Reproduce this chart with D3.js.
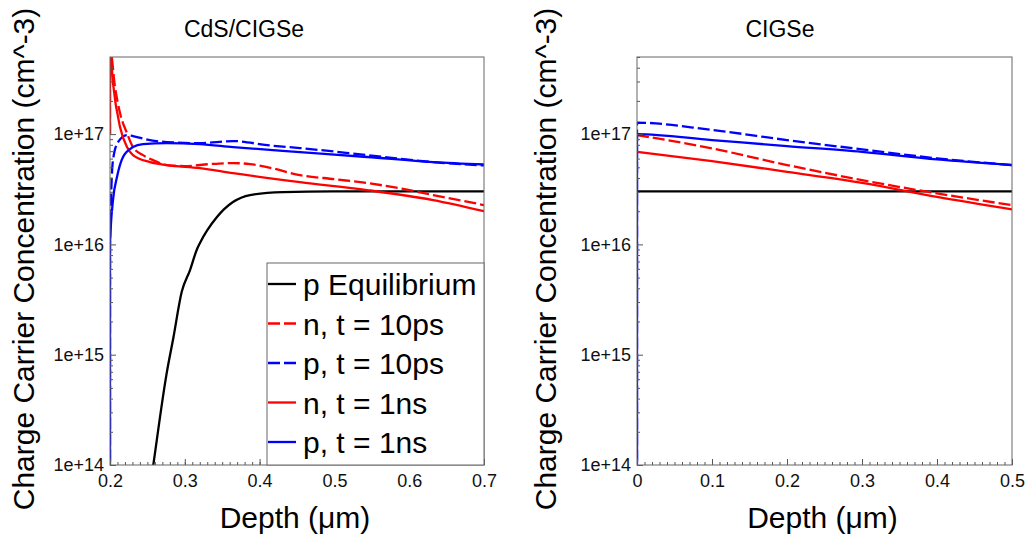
<!DOCTYPE html>
<html>
<head>
<meta charset="utf-8">
<script src="https://cdn.jsdelivr.net/npm/d3@7"></script>
<style>
  body { margin: 0; background: #fff; }
  text { font-family: "Liberation Sans", Arial, sans-serif; }
</style>
</head>
<body>
<svg id="chart" width="1026" height="539"></svg>
<script>
// ---- CdS/CIGSe panel (depth in um, concentration in cm^-3)
const hetDepthEq = [0.254, 0.2579, 0.2758, 0.2846, 0.2959, 0.307, 0.3159, 0.3203, 0.343, 0.3644, 0.3872, 0.4313, 0.4981, 0.6, 0.7];
const hetPEq = [6.5e13, 1e14, 6.8e14, 1.41e15, 3.72e15, 5.85e15, 8.9e15, 1.03e16, 1.77e16, 2.42e16, 2.8e16, 2.98e16, 3.03e16, 3.03e16, 3.03e16];

const hetDepthN10ps = [0.2, 0.2, 0.2067, 0.2134, 0.2227, 0.2307, 0.2441, 0.2575, 0.276, 0.3, 0.334, 0.3645, 0.387, 0.41, 0.454, 0.5, 0.5436, 0.59, 0.632, 0.67, 0.7];
const hetN10ps = [1e17, 6e17, 2.67e17, 1.55e17, 1.02e17, 7.62e16, 6.45e16, 5.81e16, 5.24e16, 5.13e16, 5.35e16, 5.46e16, 5.35e16, 5.02e16, 4.25e16, 3.9e16, 3.6e16, 3.2e16, 2.8e16, 2.5e16, 2.27e16];

const hetDepthP10ps = [0.2, 0.2, 0.2013, 0.204, 0.2107, 0.2227, 0.2307, 0.25, 0.276, 0.32, 0.3645, 0.41, 0.454, 0.5436, 0.632, 0.7];
const hetP10ps = [1e12, 1e16, 2.5e16, 5.8e16, 8.46e16, 9.8e16, 9.6e16, 8.9e16, 8.46e16, 8.28e16, 8.65e16, 7.94e16, 7.47e16, 6.45e16, 5.57e16, 5.2e16];

const hetDepthN1ns = [0.2, 0.2, 0.204, 0.2134, 0.2227, 0.2307, 0.2535, 0.276, 0.32, 0.3645, 0.454, 0.5436, 0.632, 0.7];
const hetN1ns = [1e17, 6e17, 2.9e17, 1.16e17, 7.62e16, 6.45e16, 5.57e16, 5.24e16, 4.92e16, 4.43e16, 3.67e16, 3.11e16, 2.52e16, 2.0e16];

const hetDepthP1ns = [0.2, 0.2, 0.204, 0.2094, 0.2174, 0.2307, 0.2441, 0.276, 0.32, 0.3645, 0.454, 0.5436, 0.632, 0.7];
const hetP1ns = [1e12, 1e16, 2.52e16, 4.1e16, 6.2e16, 7.62e16, 8.1e16, 8.28e16, 8.1e16, 7.62e16, 6.87e16, 6.2e16, 5.57e16, 5.3e16];

// ---- CIGSe panel
const absDepth = [0, 0.1, 0.2, 0.3, 0.4, 0.5];
const absDepthP = [0, 0, 0.1, 0.2, 0.3, 0.4, 0.5];
const absPEq = [3.03e16, 3.03e16, 3.03e16, 3.03e16, 3.03e16, 3.03e16];
const absN10ps = [9.8e16, 7.42e16, 5.24e16, 3.83e16, 2.9e16, 2.27e16];
const absP10ps = [1e12, 1.27e17, 1.09e17, 8.83e16, 7.27e16, 6.03e16, 5.24e16];
const absN1ns = [6.91e16, 5.69e16, 4.55e16, 3.62e16, 2.7e16, 2.08e16];
const absP1ns = [1e12, 1e17, 8.83e16, 7.79e16, 6.9e16, 5.9e16, 5.24e16];

// ---- axes / labels
const yTickValues = [1e14, 1e15, 1e16, 1e17];
const hetXTicks = [0.2, 0.3, 0.4, 0.5, 0.6, 0.7];
const absXTicks = [0, 0.1, 0.2, 0.3, 0.4, 0.5];
const legendLabels = ["p Equilibrium", "n, t = 10ps", "p, t = 10ps", "n, t = 1ns", "p, t = 1ns"];
const seriesColors = ["#000000", "#ff0000", "#0000ff", "#ff0000", "#0000ff"];
const seriesDashed = [false, true, true, false, false];

const svg = d3.select("#chart");
const plotTop = 57, plotBottom = 465;

function toPoints(xs, ys) {
  return xs.map((d, i) => [d, ys[i]]);
}

function drawPanel(opt) {
  const x = d3.scaleLinear().domain(opt.xDomain).range([opt.left, opt.right]);
  const y = d3.scaleLog().domain([1e14, 5e17]).range([plotBottom, plotTop]);
  const g = svg.append("g");

  // clip region
  g.append("clipPath").attr("id", opt.id)
    .append("rect")
    .attr("x", opt.left).attr("y", plotTop)
    .attr("width", opt.right - opt.left).attr("height", plotBottom - plotTop);

  const line = d3.line().curve(d3.curveMonotoneX)
    .x(d => x(d[0])).y(d => y(d[1]));

  const plot = g.append("g").attr("clip-path", `url(#${opt.id})`);
  opt.series.forEach((s, i) => {
    plot.append("path")
      .datum(s)
      .attr("d", line)
      .attr("fill", "none")
      .attr("stroke", seriesColors[i])
      .attr("stroke-width", 2.3)
      .attr("stroke-dasharray", seriesDashed[i] ? "12,4" : null);
  });

  // minor ticks
  const minorY = [];
  for (let k = 14; k <= 17; k++) {
    for (let m = 2; m <= 9; m++) {
      if (m * Math.pow(10, k) <= 5e17) minorY.push(m * Math.pow(10, k));
    }
  }
  g.append("g").attr("transform", `translate(${opt.left},0)`)
    .call(d3.axisLeft(y).tickValues(minorY).tickSize(-3).tickFormat(""))
    .call(a => a.select(".domain").remove());
  g.append("g").attr("transform", `translate(0,${plotBottom})`)
    .call(d3.axisBottom(x).ticks(50).tickSize(-3).tickFormat(""))
    .call(a => a.select(".domain").remove());

  // major ticks
  g.append("g").attr("transform", `translate(${opt.left},0)`)
    .call(d3.axisLeft(y).tickValues(yTickValues).tickSize(-6).tickPadding(6)
      .tickFormat(d => "1e+" + Math.round(Math.log10(d))))
    .call(a => a.select(".domain").remove());
  g.append("g").attr("transform", `translate(0,${plotBottom})`)
    .call(d3.axisBottom(x).tickValues(opt.xTicks).tickSize(-6).tickPadding(9)
      .tickFormat(d => d === 0 ? "0" : d3.format(".1f")(d)))
    .call(a => a.select(".domain").remove());

  g.selectAll(".tick line").attr("stroke", "#555");
  g.selectAll(".tick text").attr("font-size", 18).attr("fill", "#111")
    .attr("font-family", "\"Liberation Sans\", Arial, sans-serif");

  // frame
  g.append("rect")
    .attr("x", opt.left).attr("y", plotTop)
    .attr("width", opt.right - opt.left).attr("height", plotBottom - plotTop)
    .attr("fill", "none").attr("stroke", "#666").attr("stroke-width", 1);

  // title and axis labels
  g.append("text").attr("x", opt.titleX).attr("y", 37)
    .attr("text-anchor", "middle").attr("font-size", 23).text(opt.title);
  g.append("text").attr("x", (opt.left + opt.right) / 2 - 2).attr("y", 528)
    .attr("text-anchor", "middle").attr("font-size", 30).text("Depth (μm)");
  g.append("text")
    .attr("transform", `translate(${opt.yLabelX},259) rotate(-90)`)
    .attr("text-anchor", "middle").attr("font-size", 30)
    .text("Charge Carrier Concentration (cm^-3)");

  if (opt.legend) {
    const lg = g.append("g");
    lg.append("rect").attr("x", 267).attr("y", 263)
      .attr("width", opt.right - 267).attr("height", plotBottom - 263)
      .attr("fill", "#fff").attr("stroke", "#666").attr("stroke-width", 1);
    legendLabels.forEach((label, i) => {
      const base = 295 + i * 39.5;
      lg.append("line").attr("x1", 268).attr("x2", 296)
        .attr("y1", base - 11).attr("y2", base - 11)
        .attr("stroke", seriesColors[i]).attr("stroke-width", 2.3)
        .attr("stroke-dasharray", seriesDashed[i] ? "12,4" : null);
      lg.append("text").attr("x", 303).attr("y", base)
        .attr("font-size", 30).text(label);
    });
  }
}

drawPanel({
  id: "clipHet", left: 110, right: 484, xDomain: [0.2, 0.7], xTicks: hetXTicks,
  title: "CdS/CIGSe", titleX: 244, yLabelX: 34, legend: true,
  series: [
    toPoints(hetDepthEq, hetPEq),
    toPoints(hetDepthN10ps, hetN10ps),
    toPoints(hetDepthP10ps, hetP10ps),
    toPoints(hetDepthN1ns, hetN1ns),
    toPoints(hetDepthP1ns, hetP1ns)
  ]
});

drawPanel({
  id: "clipAbs", left: 637, right: 1012, xDomain: [0, 0.5], xTicks: absXTicks,
  title: "CIGSe", titleX: 780, yLabelX: 556, legend: false,
  series: [
    toPoints(absDepth, absPEq),
    toPoints(absDepth, absN10ps),
    toPoints(absDepthP, absP10ps),
    toPoints(absDepth, absN1ns),
    toPoints(absDepthP, absP1ns)
  ]
});
</script>
</body>
</html>
